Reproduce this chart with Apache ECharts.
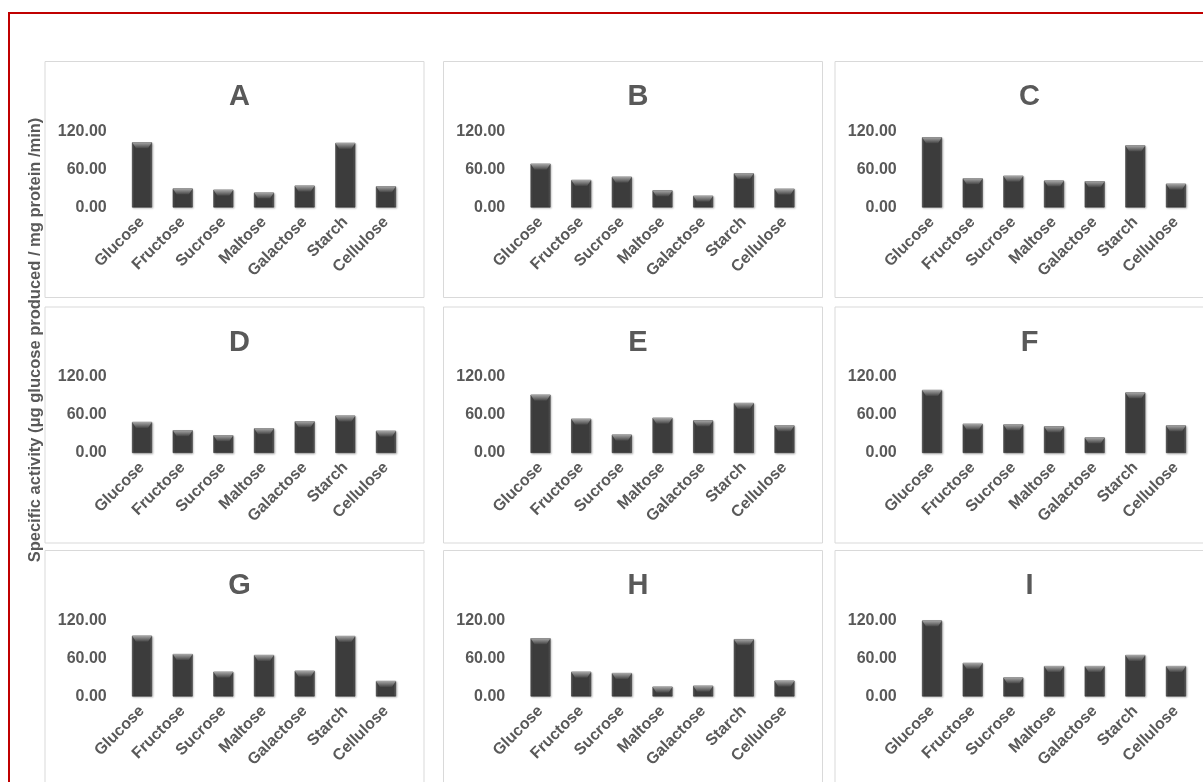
<!DOCTYPE html>
<html>
<head>
<meta charset="utf-8">
<script src="https://cdn.jsdelivr.net/npm/echarts@6/dist/echarts.min.js"></script>
<style>html,body{margin:0;padding:0;background:#fff;}#chart{width:1203px;height:782px;}</style>
</head>
<body>
<div id="chart"></div>
<script>
// ---- data ----
const categories = ['Glucose', 'Fructose', 'Sucrose', 'Maltose', 'Galactose', 'Starch', 'Cellulose'];
const panelLabels = ['A', 'B', 'C', 'D', 'E', 'F', 'G', 'H', 'I'];
const valuesA = [103, 30, 28, 23.5, 34.5, 102, 33.5];
const valuesB = [69, 43.5, 48.5, 27, 18.5, 54, 29.5];
const valuesC = [111, 46, 50, 42.5, 41.5, 98, 37.5];
const valuesD = [49, 36, 28, 39, 50, 59, 35];
const valuesE = [92, 54, 29, 55.5, 51.5, 79, 43.5];
const valuesF = [99.5, 46, 45, 42, 24.5, 95.5, 43.5];
const valuesG = [96, 67, 39, 65.5, 40.5, 95.5, 24.5];
const valuesH = [92, 39, 37, 15.5, 17, 90.5, 25];
const valuesI = [120, 53, 30, 48, 48, 65.5, 48];
const yMin = 0, yMax = 120, yInterval = 60;
const yAxisTitle = 'Specific activity (μg glucose produced / mg protein /min)';

const allValues = [valuesA, valuesB, valuesC, valuesD, valuesE, valuesF, valuesG, valuesH, valuesI];

// ---- layout ----
const colLeft = [45, 443.5, 835];
const rowTop = [61.5, 307, 550.5];
const panelW = 379, panelH = 236;
const textColor = '#595959';
const font = 'Liberation Sans, Arial, sans-serif';

const grids = [], xAxes = [], yAxes = [], series = [], titles = [], graphics = [];

graphics.push({
  type: 'rect', shape: {x: 9, y: 13, width: 1300, height: 900},
  style: {fill: '#fff', stroke: '#c00000', lineWidth: 2}, z: -10
});

for (let i = 0; i < 9; i++) {
  const r = Math.floor(i / 3), c = i % 3;
  const px = colLeft[c], py = rowTop[r];
  graphics.push({
    type: 'rect', shape: {x: px, y: py, width: panelW, height: panelH},
    style: {fill: '#fff', stroke: '#d9d9d9', lineWidth: 1}, z: -5
  });
  titles.push({
    text: panelLabels[i], left: px + panelW / 2, top: py + 16, textAlign: 'center',
    textStyle: {fontSize: 29, fontWeight: 'bold', color: textColor, fontFamily: font}
  });
  grids.push({left: px + 76.7, top: py + 70, width: 284.6, height: 76});
  xAxes.push({
    type: 'category', gridIndex: i, data: categories,
    axisLine: {show: false}, axisTick: {show: false},
    axisLabel: {rotate: 45, interval: 0, margin: 12, color: textColor, fontSize: 16, fontWeight: 'bold', fontFamily: font}
  });
  yAxes.push({
    type: 'value', gridIndex: i, min: yMin, max: yMax, interval: yInterval,
    axisLine: {show: false}, axisTick: {show: false}, splitLine: {show: false},
    axisLabel: {margin: 15, color: textColor, fontSize: 16, fontWeight: 'bold', fontFamily: font,
      formatter: v => v.toFixed(2)}
  });
  series.push({
    type: 'bar', xAxisIndex: i, yAxisIndex: i, data: allValues[i], barWidth: 20,
    itemStyle: {
      color: {type: 'linear', x: 0, y: 0, x2: 1, y2: 0, colorStops: [
        {offset: 0, color: '#5e5e5e'}, {offset: 0.12, color: '#3c3c3c'},
        {offset: 0.88, color: '#3c3c3c'}, {offset: 1, color: '#5e5e5e'}]},
      borderColor: '#2e2e2e', borderWidth: 0.6,
      shadowColor: 'rgba(0,0,0,0.25)', shadowBlur: 2, shadowOffsetX: 1, shadowOffsetY: 1
    }
  });
  series.push({
    type: 'pictorialBar', xAxisIndex: i, yAxisIndex: i, data: allValues[i],
    symbol: 'path://M0,0 L20,0 L16,6 L4,6 Z', symbolSize: [20, 6], symbolPosition: 'end',
    symbolOffset: [0, 0], z: 5,
    itemStyle: {color: {type: 'linear', x: 0, y: 0, x2: 0, y2: 1, colorStops: [
      {offset: 0, color: '#a8a8a8'}, {offset: 1, color: '#454545'}]}}
  });
}

graphics.push({
  type: 'text', x: 35, y: 340, rotation: Math.PI / 2,
  style: {text: yAxisTitle, fill: textColor, fontSize: 16.5, fontWeight: 'bold', fontFamily: font,
    textAlign: 'center', textVerticalAlign: 'middle'}
});

const chart = echarts.init(document.getElementById('chart'));
chart.setOption({
  animation: false,
  backgroundColor: '#fff',
  title: titles,
  grid: grids, xAxis: xAxes, yAxis: yAxes, series: series,
  graphic: graphics
});
</script>
</body>
</html>
